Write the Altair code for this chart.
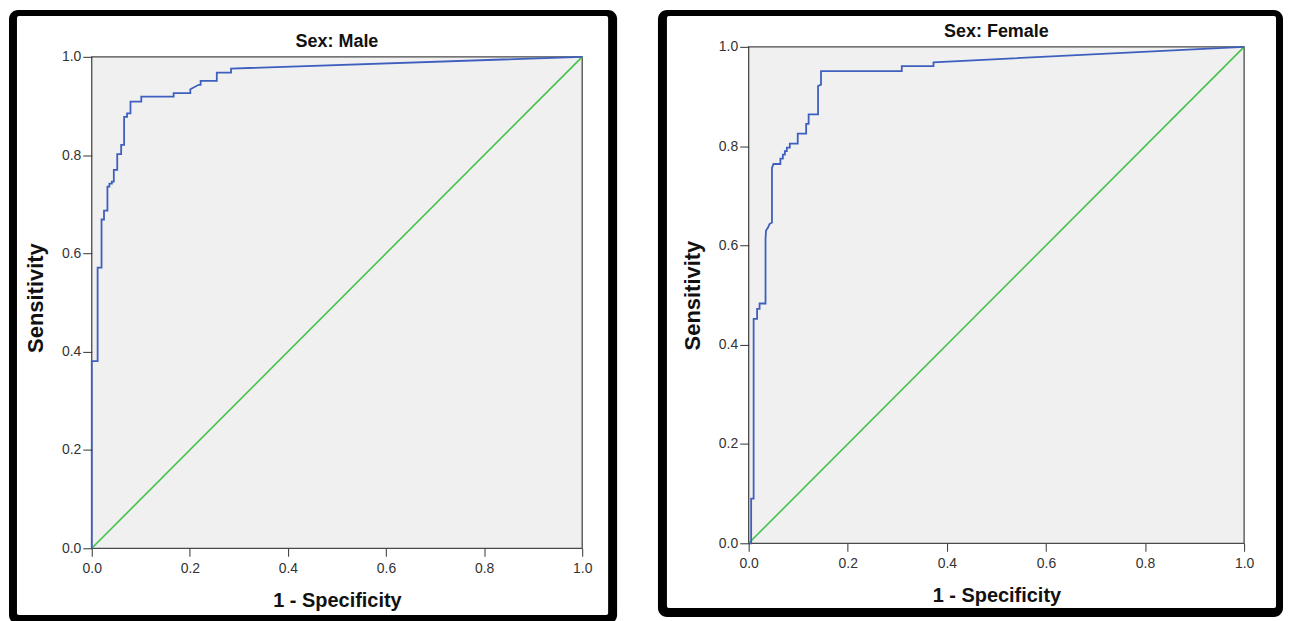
import altair as alt
import pandas as pd

# ---- data ----
male_fpr = [0.000, 0.000, 0.012, 0.012, 0.020, 0.020, 0.025, 0.025, 0.032, 0.032,
            0.036, 0.036, 0.041, 0.041, 0.045, 0.045, 0.052, 0.052, 0.060, 0.060,
            0.066, 0.066, 0.072, 0.072, 0.079, 0.079, 0.101, 0.101, 0.167, 0.167,
            0.201, 0.201, 0.218, 0.222, 0.222, 0.255, 0.255, 0.284, 0.284, 1.000]
male_tpr = [0.000, 0.381, 0.381, 0.571, 0.571, 0.669, 0.669, 0.687, 0.687, 0.736,
            0.736, 0.742, 0.742, 0.746, 0.746, 0.770, 0.770, 0.802, 0.802, 0.821,
            0.821, 0.878, 0.878, 0.885, 0.885, 0.909, 0.909, 0.919, 0.919, 0.926,
            0.926, 0.934, 0.943, 0.943, 0.951, 0.951, 0.968, 0.968, 0.976, 1.000]

female_fpr = [0.000, 0.005, 0.005, 0.010, 0.010, 0.017, 0.017, 0.022, 0.022, 0.034,
              0.034, 0.035, 0.039, 0.042, 0.047, 0.047, 0.050, 0.064, 0.064, 0.069,
              0.069, 0.073, 0.073, 0.077, 0.077, 0.083, 0.083, 0.099, 0.099, 0.116,
              0.116, 0.121, 0.121, 0.140, 0.140, 0.146, 0.146, 0.309, 0.309, 0.373,
              0.373, 1.000]
female_tpr = [0.000, 0.000, 0.090, 0.090, 0.452, 0.452, 0.472, 0.472, 0.483, 0.483,
              0.613, 0.630, 0.636, 0.643, 0.646, 0.756, 0.764, 0.764, 0.775, 0.775,
              0.783, 0.783, 0.790, 0.790, 0.797, 0.797, 0.805, 0.805, 0.825, 0.825,
              0.845, 0.845, 0.864, 0.864, 0.921, 0.924, 0.951, 0.951, 0.961, 0.961,
              0.969, 1.000]

ref_fpr = [0.0, 1.0]
ref_tpr = [0.0, 1.0]
tick_values = [0.0, 0.2, 0.4, 0.6, 0.8, 1.0]
panel_titles = ["Sex: Male", "Sex: Female"]
x_title = "1 - Specificity"
y_title = "Sensitivity"

FONT = "Liberation Sans"
CURVE = "#3f5fbf"
DIAG = "#45c24b"
PLOT_BG = "#f0f0f0"


def panel(fpr, tpr, title, width, height, ymax, frame):
    xs = alt.Scale(domain=[0, 1], nice=False, zero=False)
    ys = alt.Scale(domain=[0, ymax], nice=False, zero=False)
    xaxis = alt.Axis(values=tick_values, format=".1f", title=x_title, grid=False,
                     domain=False, tickSize=8, labelPadding=5, titlePadding=15,
                     titleFontSize=20, labelFlush=False, zindex=2)
    yaxis = alt.Axis(values=tick_values, format=".1f", title=y_title, grid=False,
                     domain=False, tickSize=9, labelPadding=2, titlePadding=14,
                     titleFontSize=22, labelFlush=False, zindex=2)

    def X(f):
        return alt.X(f, type="quantitative", scale=xs, axis=xaxis)

    def Y(f):
        return alt.Y(f, type="quantitative", scale=ys, axis=yaxis)

    one = alt.Data(values=[{"k": 0}])
    (ox1, ox2, oy1, oy2), (ix1, ix2, iy1, iy2) = frame
    outer = alt.Chart(one).mark_rect(color="black", cornerRadius=9).encode(
        x=alt.value(ox1), x2=alt.value(ox2), y=alt.value(oy1), y2=alt.value(oy2))
    inner = alt.Chart(one).mark_rect(color="white", cornerRadius=2).encode(
        x=alt.value(ix1), x2=alt.value(ix2), y=alt.value(iy1), y2=alt.value(iy2))

    bg_df = pd.DataFrame({"fpr": [0.0], "fpr2": [1.0], "tpr": [0.0], "tpr2": [1.0]})
    bg = alt.Chart(bg_df).mark_rect(fill=PLOT_BG, stroke="#4a4a4a", strokeWidth=1.3).encode(
        x=X("fpr"), x2="fpr2", y=Y("tpr"), y2="tpr2")

    diag_df = pd.DataFrame({"fpr": ref_fpr, "tpr": ref_tpr, "i": [0, 1]})
    diag = alt.Chart(diag_df).mark_line(color=DIAG, strokeWidth=1.6).encode(
        x=X("fpr"), y=Y("tpr"), order="i:Q")

    curve_df = pd.DataFrame({"fpr": fpr, "tpr": tpr, "i": list(range(len(fpr)))})
    curve = alt.Chart(curve_df).mark_line(color=CURVE, strokeWidth=1.8).encode(
        x=X("fpr"), y=Y("tpr"), order="i:Q")

    title_df = pd.DataFrame({"fpr": [0.5], "tpr": [1.0], "label": [title]})
    ttl = alt.Chart(title_df).mark_text(font=FONT, fontSize=18, fontWeight="bold",
                                        color="#111", baseline="alphabetic", dy=-10).encode(
        x=X("fpr"), y=Y("tpr"), text="label:N")

    return alt.layer(outer, inner, bg, diag, curve, ttl).properties(width=width, height=height)


# panel origins on the page: left (91, 45), right (748, 45)
left = panel(male_fpr, male_tpr, panel_titles[0], 492, 503, 503 / 493,
             ((-83, 527, -37, 579), (-75, 518, -31, 570)))
right = panel(female_fpr, female_tpr, panel_titles[1], 497, 498, 1.0,
              ((-91, 536, -37, 572), (-82, 529, -31, 563)))

chart = alt.hconcat(left, right, spacing=39).properties(padding=0).configure_view(
    stroke="transparent"
).configure_axis(
    labelFont=FONT, labelFontSize=14, labelColor="#333", tickColor="#333",
    titleFont=FONT, titleFontWeight="bold", titleColor="#111",
)

chart.save("out.html", embed_options={"renderer": "svg", "actions": False})
